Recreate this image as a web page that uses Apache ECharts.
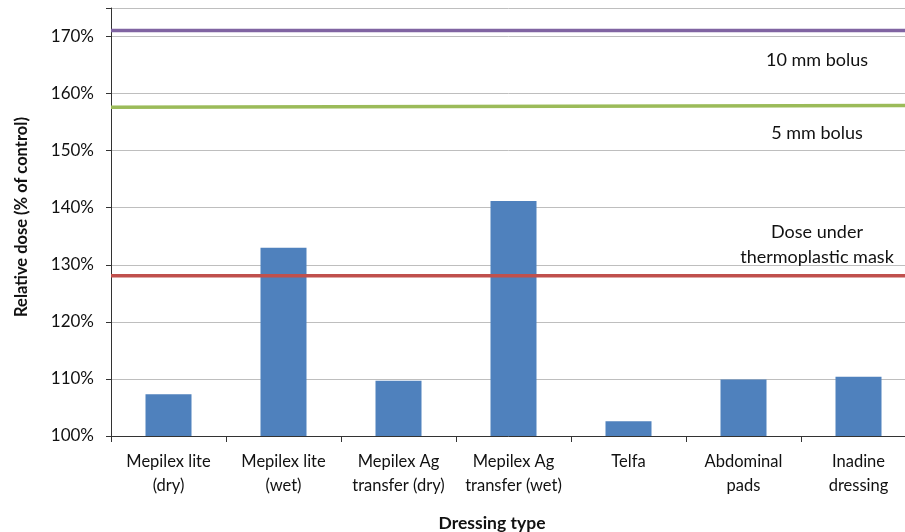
<!DOCTYPE html>
<html>
<head>
<meta charset="utf-8">
<script src="https://cdn.jsdelivr.net/npm/echarts@6/dist/echarts.min.js"></script>
<style>
html,body{margin:0;padding:0;background:#fff;overflow:hidden;}
#chart{width:905px;height:532px;}
</style>
</head>
<body>
<div id="chart"></div>
<script>
const categories = ['Mepilex lite\n(dry)', 'Mepilex lite\n(wet)', 'Mepilex Ag\ntransfer (dry)', 'Mepilex Ag\ntransfer (wet)', 'Telfa', 'Abdominal\npads', 'Inadine\ndressing'];
const doseValues = [107.3, 133.0, 109.7, 141.2, 102.6, 109.9, 110.4];
const bolus10Line = [[0, 171.05], [1, 171.05]];
const bolus5Line = [[0, 157.6], [1, 157.9]];
const maskLine = [[0, 128.1], [1, 128.1]];
const yTicks = [100, 110, 120, 130, 140, 150, 160, 170];
const annotations = [
  {text: '10 mm bolus', value: 165.9},
  {text: '5 mm bolus', value: 153.1},
  {text: 'Dose under\nthermoplastic mask', value: 133.5}
];

const FONT = 'Lato, "Open Sans", sans-serif';
const chart = echarts.init(document.getElementById('chart'));
const grid = {left: 111, top: 8, width: 805, height: 428, containLabel: false, outerBoundsMode: 'none'};

const option = {
  animation: false,
  backgroundColor: '#fff',
  textStyle: {fontFamily: FONT},
  grid: grid,
  xAxis: [{
    type: 'category',
    data: categories,
    axisLine: {lineStyle: {color: '#333', width: 1}},
    axisTick: {show: true, length: 6, alignWithLabel: false, lineStyle: {color: '#333'}},
    axisLabel: {color: '#111', fontSize: 16.5, fontFamily: FONT, margin: 14, lineHeight: 24, interval: 0}
  }, {
    type: 'value', min: 0, max: 1, show: false
  }],
  yAxis: {
    type: 'value',
    min: 100, max: 175, interval: 10,
    axisLine: {show: true, lineStyle: {color: '#333', width: 1}},
    axisTick: {show: true, length: 5, lineStyle: {color: '#333'}},
    axisLabel: {
      color: '#111', fontSize: 17, fontFamily: FONT, margin: 17,
      formatter: v => yTicks.indexOf(v) >= 0 ? v + '%' : ''
    },
    splitLine: {show: true, lineStyle: {color: '#BEBEBE', width: 1}}
  },
  series: [{
    type: 'bar',
    data: doseValues,
    barWidth: '40%',
    itemStyle: {color: '#4F81BD'}
  }, {
    type: 'line', xAxisIndex: 1, data: bolus10Line, symbol: 'none',
    lineStyle: {color: '#8064A2', width: 3.5}
  }, {
    type: 'line', xAxisIndex: 1, data: bolus5Line, symbol: 'none',
    lineStyle: {color: '#9BBB59', width: 3.5}
  }, {
    type: 'line', xAxisIndex: 1, data: maskLine, symbol: 'none',
    lineStyle: {color: '#C0504D', width: 3.5}
  }]
};
chart.setOption(option);

const annX = 817;
const gfx = annotations.map(a => {
  const y = chart.convertToPixel({yAxisIndex: 0}, a.value);
  return {
    type: 'text', x: annX, y: y,
    style: {text: a.text, font: '18px ' + FONT, fill: '#111', align: 'center', verticalAlign: 'middle', lineHeight: 25}
  };
});
gfx.push({
  type: 'text', x: 492, y: 523,
  style: {text: 'Dressing type', font: 'bold 17.5px ' + FONT, fill: '#111', align: 'center', verticalAlign: 'middle'}
});
gfx.push({
  type: 'text', x: 22, y: 217, rotation: Math.PI / 2,
  style: {text: 'Relative dose (% of control)', font: 'bold 16.5px ' + FONT, fill: '#111', align: 'center', verticalAlign: 'middle'}
});
chart.setOption({graphic: gfx});
</script>
</body>
</html>
